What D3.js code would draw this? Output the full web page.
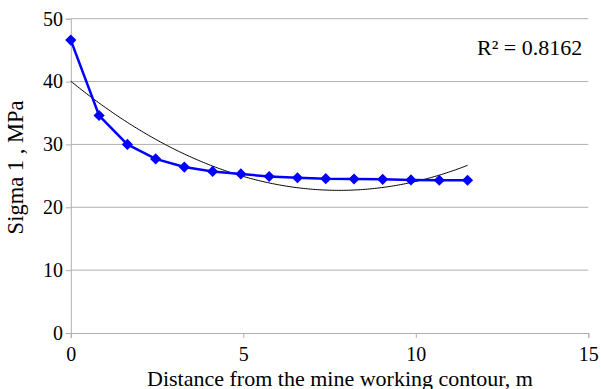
<!DOCTYPE html>
<html>
<head>
<meta charset="utf-8">
<script src="https://cdn.jsdelivr.net/npm/d3@7"></script>
<style>
  html, body { margin: 0; padding: 0; background: #fff; }
  svg text { font-family: "Liberation Serif", "Times New Roman", serif; fill: #000; }
</style>
</head>
<body>
<svg id="chart" width="601" height="389"></svg>
<script>
// Distance from the contour (m) and measured Sigma 1 (MPa)
const distance = [0, 0.82, 1.64, 2.46, 3.29, 4.11, 4.93, 5.75, 6.57, 7.39, 8.21, 9.04, 9.86, 10.68, 11.5];
const sigma1   = [46.6, 34.6, 30.0, 27.7, 26.4, 25.7, 25.3, 24.9, 24.7, 24.55, 24.5, 24.45, 24.35, 24.3, 24.3];
const xTicks = [0, 5, 10, 15];
const yTicks = [0, 10, 20, 30, 40, 50];
const r2Label = "R\u00B2 = 0.8162";
const xTitle = "Distance from the mine working contour, m";
const yTitle = "Sigma 1 , MPa";

const serif = "'Liberation Serif', 'Times New Roman', serif";
const svg = d3.select("#chart");
const margin = { left: 70.8, right: 601 - 588.3, top: 18.7, bottom: 389 - 333 };
const W = 601 - margin.left - margin.right;
const H = 389 - margin.top - margin.bottom;

const x = d3.scaleLinear().domain([0, 15]).range([margin.left, margin.left + W]);
const y = d3.scaleLinear().domain([0, 50]).range([margin.top + H, margin.top]);

// Horizontal gridlines
svg.append("g").selectAll("line").data(yTicks.filter(d => d > 0)).join("line")
  .attr("x1", x(0)).attr("x2", x(15))
  .attr("y1", d => y(d)).attr("y2", d => y(d))
  .attr("stroke", "#b0b0b0").attr("stroke-width", 1);

// Axes
const xAxis = svg.append("g").attr("transform", `translate(0,${y(0)})`)
  .call(d3.axisBottom(x).tickValues(xTicks).tickSize(5).tickPadding(4).tickFormat(d3.format("d")));
const yAxis = svg.append("g").attr("transform", `translate(${x(0)},0)`)
  .call(d3.axisLeft(y).tickValues(yTicks).tickSize(5).tickPadding(3).tickFormat(d3.format("d")));
[xAxis, yAxis].forEach(g => {
  g.attr("font-family", serif).attr("font-size", 20);
  g.select(".domain").attr("stroke", "#b0b0b0");
  g.selectAll(".tick line").attr("stroke", "#b0b0b0");
  g.selectAll("text").attr("fill", "#000").style("font-family", serif).style("font-size", "20px");
});
xAxis.selectAll("text").attr("dy", null).attr("y", 0).attr("transform", `translate(0,${360.5 - y(0)})`);
yAxis.selectAll("text").attr("x", 63 - x(0));

// Second-order polynomial trend (least squares)
function polyFit2(xs, ys) {
  const n = xs.length;
  let s = [0, 0, 0, 0, 0], t = [0, 0, 0];
  for (let i = 0; i < n; i++) {
    for (let k = 0; k < 5; k++) s[k] += Math.pow(xs[i], k);
    for (let k = 0; k < 3; k++) t[k] += ys[i] * Math.pow(xs[i], k);
  }
  const A = [[s[0], s[1], s[2], t[0]], [s[1], s[2], s[3], t[1]], [s[2], s[3], s[4], t[2]]];
  for (let i = 0; i < 3; i++) {
    for (let j = i + 1; j < 3; j++) {
      const f = A[j][i] / A[i][i];
      for (let k = i; k < 4; k++) A[j][k] -= f * A[i][k];
    }
  }
  const c = [0, 0, 0];
  for (let i = 2; i >= 0; i--) {
    let v = A[i][3];
    for (let k = i + 1; k < 3; k++) v -= A[i][k] * c[k];
    c[i] = v / A[i][i];
  }
  return c;
}
const coef = polyFit2(distance, sigma1);
const trendX = d3.range(0, 11.5 + 1e-9, 0.05);
svg.append("path")
  .datum(trendX)
  .attr("fill", "none").attr("stroke", "#000").attr("stroke-width", 1)
  .attr("d", d3.line().x(d => x(d)).y(d => y(coef[0] + coef[1] * d + coef[2] * d * d)));

// Measured series
const pts = distance.map((d, i) => [d, sigma1[i]]);
svg.append("path").datum(pts)
  .attr("fill", "none").attr("stroke", "#0000ff").attr("stroke-width", 2.5)
  .attr("d", d3.line().x(d => x(d[0])).y(d => y(d[1])));
svg.append("g").selectAll("path").data(pts).join("path")
  .attr("transform", d => `translate(${x(d[0])},${y(d[1])})`)
  .attr("d", d3.symbol(d3.symbolDiamond2, 80))
  .attr("fill", "#0000ff");

// Labels
svg.append("text").attr("x", 477).attr("y", 55).style("font-size", "22px").text(r2Label);
svg.append("text").attr("x", 340).attr("y", 385.5)
  .attr("text-anchor", "middle").style("font-size", "22px").text(xTitle);
svg.append("text").attr("transform", `translate(23,167.5) rotate(-90)`)
  .attr("text-anchor", "middle").style("font-size", "22.5px").text(yTitle);
</script>
</body>
</html>
